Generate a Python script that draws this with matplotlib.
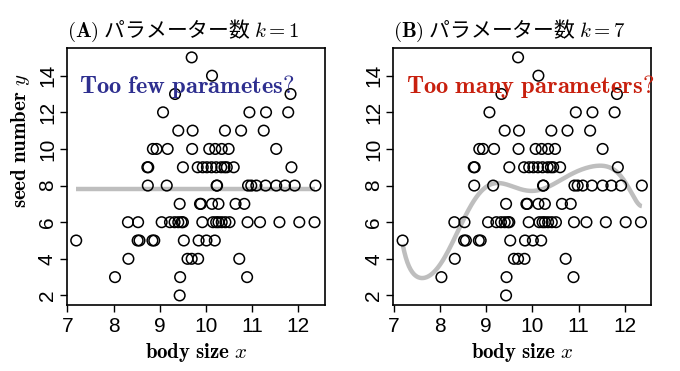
import numpy as np
import matplotlib.pyplot as plt

plt.rcParams['mathtext.fontset'] = 'cm'
plt.rcParams['font.family'] = ['Noto Sans CJK JP', 'DejaVu Sans']

# 体サイズ x と種子数 y（図から読み取り、y の行ごと）
body_size = [
    9.43,                                                   # y=2
    8.03, 9.44, 10.89,                                      # y=3
    8.32, 9.60, 9.69, 9.83, 10.72,                          # y=4
    7.19, 8.52, 8.56, 8.84, 8.88, 9.52, 9.84, 10.01, 10.19,  # y=5
    8.31, 8.53, 9.04, 9.22, 9.32, 9.40, 9.47, 9.50, 9.92, 10.15,
    10.22, 10.27, 10.34, 10.42, 10.51, 10.90, 11.17, 11.59, 12.02, 12.35,  # y=6
    9.43, 9.87, 9.89, 10.13, 10.27, 10.64, 10.83,           # y=7
    8.74, 9.15, 10.23, 10.24, 10.91, 10.98, 11.09, 11.29, 11.52, 11.71,
    11.92, 12.37,                                           # y=8
    8.73, 8.75, 9.50, 9.82, 9.93, 10.02, 10.12, 10.22, 10.33, 10.40,
    10.45, 10.60, 11.85,                                    # y=9
    8.85, 8.93, 9.17, 9.70, 10.07, 10.20, 10.34, 10.49, 11.52,  # y=10
    9.40, 9.71, 10.41, 10.76, 11.25,                        # y=11
    9.07, 10.94, 11.30, 11.78,                              # y=12
    9.33, 11.83,                                            # y=13
    10.13,                                                  # y=14
    9.69,                                                   # y=15
]
seed_number = (
    [2] * 1 + [3] * 3 + [4] * 5 + [5] * 9 + [6] * 20 + [7] * 7 + [8] * 12
    + [9] * 13 + [10] * 9 + [11] * 5 + [12] * 4 + [13] * 2 + [14] * 1 + [15] * 1
)

# k=1 モデル（平均）の予測値
mean_seed = 7.83

# k=7 モデルの予測曲線上の読み取り点
curve_x = [7.19, 7.25, 7.40, 7.54, 7.70, 7.90, 8.16, 8.30, 8.45, 8.65,
           8.87, 9.10, 9.38, 9.80, 10.20, 10.58, 11.09, 11.42, 11.81, 12.10, 12.40]
curve_y = [4.90, 4.00, 3.30, 3.00, 3.05, 3.35, 4.20, 5.00, 6.00, 6.90,
           7.60, 8.00, 8.05, 7.85, 7.80, 8.20, 8.90, 9.13, 8.73, 7.83, 6.90]

panel_titles = [r'$\mathbf{(A)}$ パラメーター数 $k = 1$',
                r'$\mathbf{(B)}$ パラメーター数 $k = 7$']
panel_notes = [r'$\mathbf{Too\ few\ parametes?}$',
               r'$\mathbf{Too\ many\ parameters?}$']
note_colors = ['#2e2f8f', '#c8200e']
x_ticks = [7, 8, 9, 10, 11, 12]
y_ticks = [2, 4, 6, 8, 10, 12, 14]

x = np.array(body_size)
y = np.array(seed_number)

fig = plt.figure(figsize=(6.8, 3.71), dpi=100)
axes = [fig.add_axes([0.098, 0.178, 0.380, 0.693]),
        fig.add_axes([0.578, 0.178, 0.380, 0.693])]

xs = np.linspace(x.min(), x.max(), 300)
smooth = np.polynomial.Polynomial.fit(curve_x, curve_y, 10)
fits = [np.full_like(xs, mean_seed), smooth(xs)]

xr = x.max() - x.min()
yr = y.max() - y.min()
tick_font = ['Liberation Sans Narrow', 'Liberation Sans', 'DejaVu Sans']

for i, ax in enumerate(axes):
    ax.plot(xs, fits[i], color='#bebebe', lw=3.2, solid_capstyle='butt', zorder=1)
    ax.scatter(x, y, s=58, facecolors='none', edgecolors='black', linewidths=1.1, zorder=2)
    ax.set_xlim(x.min() - 0.04 * xr, x.max() + 0.04 * xr)
    ax.set_ylim(y.min() - 0.04 * yr, y.max() + 0.04 * yr)
    ax.set_xticks(x_ticks)
    ax.set_yticks(y_ticks)
    ax.set_xticklabels([str(t) for t in x_ticks], family=tick_font, fontsize=15)
    ax.set_yticklabels([str(t) for t in y_ticks], family=tick_font, fontsize=15,
                       rotation=90, va='center')
    ax.tick_params(direction='out', length=5, width=1.0, pad=4)
    ax.tick_params(axis='y', pad=2)
    for sp in ax.spines.values():
        sp.set_linewidth(1.2)
    ax.set_xlabel(r'$\mathbf{body\ size}\ x$', fontsize=15, labelpad=3)
    ax.set_title(panel_titles[i], loc='left', fontsize=15, pad=8)
    ax.text(7.26, 13.4, panel_notes[i], color=note_colors[i], fontsize=17.7,
            va='center', ha='left', zorder=3)

axes[0].set_ylabel(r'$\mathbf{seed\ number}\ y$', fontsize=15)
axes[0].yaxis.set_label_coords(-0.135, 0.64)

fig.savefig('out.png', dpi=100)
